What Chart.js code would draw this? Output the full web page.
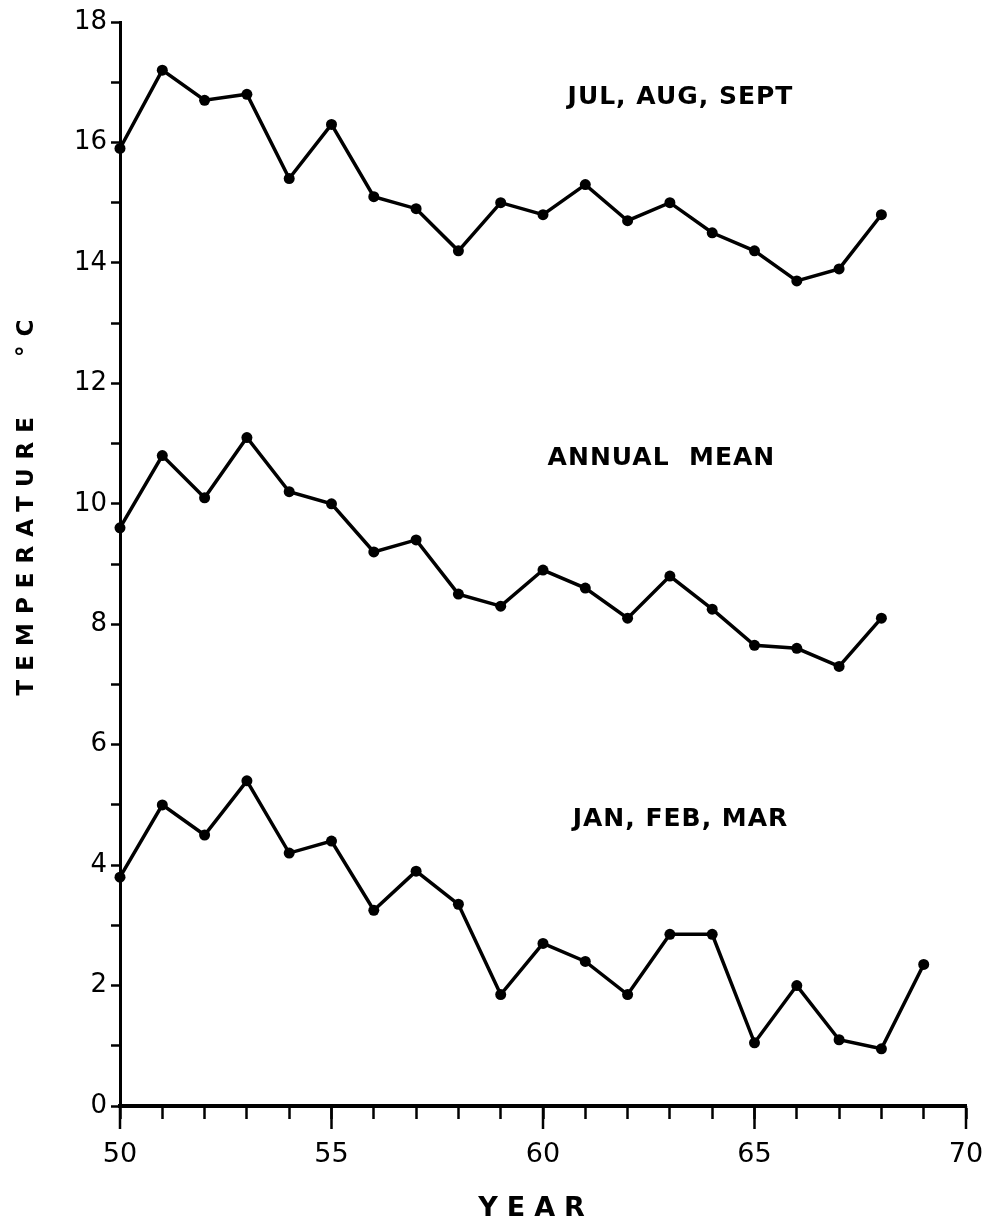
<!DOCTYPE html>
<html>
<head>
<meta charset="utf-8">
<title>Temperature by year</title>
<script src="https://cdn.jsdelivr.net/npm/chart.js@4.4.1/dist/chart.umd.min.js"></script>
<style>
    html, body { margin: 0; padding: 0; background: #fff; }
    #wrap { width: 991px; height: 1228px; }
</style>
</head>
<body>
<div id="wrap"><canvas id="temp-chart" width="991" height="1228"></canvas></div>
<script>
    "use strict";

    // Data
    var yearsSummer = [50, 51, 52, 53, 54, 55, 56, 57, 58, 59, 60, 61, 62, 63, 64, 65, 66, 67, 68];
    var julAugSept = [15.9, 17.2, 16.7, 16.8, 15.4, 16.3, 15.1, 14.9, 14.2, 15.0, 14.8, 15.3, 14.7, 15.0, 14.5, 14.2, 13.7, 13.9, 14.8];

    var yearsAnnual = [50, 51, 52, 53, 54, 55, 56, 57, 58, 59, 60, 61, 62, 63, 64, 65, 66, 67, 68];
    var annualMean = [9.6, 10.8, 10.1, 11.1, 10.2, 10.0, 9.2, 9.4, 8.5, 8.3, 8.9, 8.6, 8.1, 8.8, 8.25, 7.65, 7.6, 7.3, 8.1];

    var yearsWinter = [50, 51, 52, 53, 54, 55, 56, 57, 58, 59, 60, 61, 62, 63, 64, 65, 66, 67, 68, 69];
    var janFebMar = [3.8, 5.0, 4.5, 5.4, 4.2, 4.4, 3.25, 3.9, 3.35, 1.85, 2.7, 2.4, 1.85, 2.85, 2.85, 1.05, 2.0, 1.1, 0.95, 2.35];

    var majorYears = [50, 55, 60, 65, 70];

    // Series captions, anchored in data units
    var captions = [
        { text: "JUL, AUG, SEPT", x: 63.25, y: 16.75 },
        { text: "ANNUAL  MEAN", x: 62.8, y: 10.75 },
        { text: "JAN, FEB, MAR", x: 63.25, y: 4.75 }
    ];

    function points(xs, ys) {
        return xs.map(function (x, i) { return { x: x, y: ys[i] }; });
    }

    function series(label, xs, ys) {
        return {
            label: label,
            data: points(xs, ys),
            borderColor: "#000",
            backgroundColor: "#000",
            borderWidth: 3.5,
            pointRadius: 5.5,
            pointBorderWidth: 0,
            tension: 0,
            clip: false
        };
    }

    var FONT = "'DejaVu Sans', sans-serif";

    // Longer ticks at every 5 years, captions and axis titles
    var decorations = {
        id: "decorations",
        afterDraw: function (chart) {
            var ctx = chart.ctx;
            var xs = chart.scales.x, ys = chart.scales.y;
            var area = chart.chartArea;

            ctx.save();
            ctx.strokeStyle = "#000";
            ctx.lineWidth = 2.5;
            majorYears.forEach(function (yr) {
                var px = xs.getPixelForValue(yr);
                ctx.beginPath();
                ctx.moveTo(px, area.bottom);
                ctx.lineTo(px, area.bottom + 23);
                ctx.stroke();
            });

            ctx.fillStyle = "#000";
            ctx.textAlign = "center";
            ctx.textBaseline = "middle";
            ctx.font = "bold 25px " + FONT;
            if ("letterSpacing" in ctx) ctx.letterSpacing = "1px";
            captions.forEach(function (c) {
                ctx.fillText(c.text, xs.getPixelForValue(c.x), ys.getPixelForValue(c.y));
            });

            // x title
            ctx.font = "bold 27px " + FONT;
            if ("letterSpacing" in ctx) ctx.letterSpacing = "9px";
            ctx.fillText("YEAR", 536, 1209);

            // y title
            ctx.translate(27, 503);
            ctx.rotate(-Math.PI / 2);
            ctx.font = "bold 23px " + FONT;
            if ("letterSpacing" in ctx) ctx.letterSpacing = "9px";
            ctx.fillText("TEMPERATURE   °C", 0, 0);
            ctx.restore();
        }
    };

    var ctx1 = document.getElementById("temp-chart").getContext("2d");
    var myChart1 = new Chart(ctx1, {
        type: "line",
        data: {
            datasets: [
                series("JUL, AUG, SEPT", yearsSummer, julAugSept),
                series("ANNUAL MEAN", yearsAnnual, annualMean),
                series("JAN, FEB, MAR", yearsWinter, janFebMar)
            ]
        },
        options: {
            responsive: false,
            animation: false,
            events: [],
            layout: { padding: { left: 0, top: 22, right: 25, bottom: 0 } },
            plugins: {
                legend: { display: false },
                tooltip: { enabled: false }
            },
            scales: {
                x: {
                    type: "linear",
                    min: 50,
                    max: 70,
                    afterFit: function (scale) {
                        scale.height = 122;
                        scale.paddingLeft = 0;
                        scale.paddingRight = 0;
                    },
                    border: { display: true, color: "#000", width: 4 },
                    grid: {
                        drawOnChartArea: false,
                        drawTicks: true,
                        tickLength: 13,
                        tickWidth: 2.5,
                        tickColor: "#000"
                    },
                    ticks: {
                        stepSize: 1,
                        autoSkip: false,
                        maxRotation: 0,
                        padding: 20,
                        color: "#000",
                        font: { family: FONT, size: 27 },
                        callback: function (v) { return v % 5 === 0 ? v : ""; }
                    }
                },
                y: {
                    min: 0,
                    max: 18,
                    afterFit: function (scale) {
                        scale.width = 120;
                        scale.paddingTop = 0;
                        scale.paddingBottom = 0;
                    },
                    border: { display: true, color: "#000", width: 3 },
                    grid: {
                        drawOnChartArea: false,
                        drawTicks: true,
                        tickLength: 9,
                        tickWidth: 2.5,
                        tickColor: "#000"
                    },
                    ticks: {
                        stepSize: 1,
                        autoSkip: false,
                        padding: 4,
                        color: "#000",
                        font: { family: FONT, size: 26 },
                        callback: function (v) { return v % 2 === 0 ? v : ""; }
                    }
                }
            }
        },
        plugins: [decorations]
    });
</script>
</body>
</html>
